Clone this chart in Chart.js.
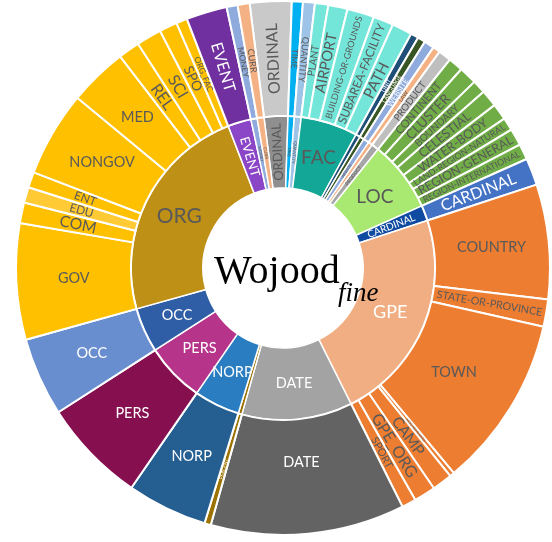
<!DOCTYPE html>
<html>
<head>
<meta charset="utf-8">
<script src="https://cdn.jsdelivr.net/npm/chart.js@4"></script>
<style>
html, body { margin: 0; padding: 0; background: #fff; }
#wrap { width: 552px; height: 542px; }
</style>
</head>
<body>
<div id="wrap"><canvas id="sunburst" width="552" height="542"></canvas></div>
<script>
// top level entity types, clockwise from the top (ORDINAL)
const categories = ['ORDINAL', 'TIME', 'QUANTITY', 'FAC', 'UNIT', 'LANGUAGE', 'WEBSITE', 'LAW', 'PRODUCT', 'LOC',
    'CARDINAL', 'GPE', 'DATE', 'PERCENT', 'NORP', 'PERS', 'OCC', 'ORG', 'EVENT', 'MONEY', 'CURR'];
// share of types without subtypes (null = sum of its subtypes)
const categoryValues = [9.1, 2.4, 2.6, null, 1.7, 1.7, 2.2, 1.6, 2.8, null,
    5.9, null, 42.3, 1.4, 17.5, 22.7, 17.1, null, 8.9, 2.4, 2.6];

// subtypes
const facTypes = ['PLANT', 'AIRPORT', 'BUILDING-OR-GROUNDS', 'SUBAREA-FACILITY', 'PATH'];
const facValues = [2.9, 4.2, 5.9, 4.4, 4.4];
const locTypes = ['CONTINENT', 'CLUSTER', 'BOUNDARY', 'CELESTIAL', 'WATER-BODY', 'LAND-REGION-NATURAL', 'REGION-GENERAL', 'REGION-INTERNATIONAL'];
const locValues = [3.2, 3.9, 2.9, 3.7, 3.6, 2.8, 3.7, 3.4];
const gpeTypes = ['COUNTRY', 'STATE-OR-PROVINCE', 'TOWN', 'NEIGHBORHOOD', 'CAMP', 'GPE_ORG', 'SPORT'];
const gpeValues = [25.0, 5.9, 37.5, 1.0, 4.4, 4.7, 3.1];
const orgTypes = ['GOV', 'COM', 'EDU', 'ENT', 'NONGOV', 'MED', 'REL', 'SCI', 'SPO', 'ORG_FAC'];
const orgValues = [25.3, 4.5, 3.4, 3.4, 18.6, 12.8, 4.7, 5.5, 3.9, 2.4];

const subtypes = { FAC: [facTypes, facValues], LOC: [locTypes, locValues], GPE: [gpeTypes, gpeValues], ORG: [orgTypes, orgValues] };

// colours
const innerColors = {
    ORDINAL: '#8f8f8f', TIME: '#00b0f0', QUANTITY: '#9dc3e6', FAC: '#13a797', UNIT: '#1f4e79', LANGUAGE: '#375623',
    WEBSITE: '#8faadc', LAW: '#f4b183', PRODUCT: '#a6a6a6', LOC: '#a9e871', CARDINAL: '#0f4ba0', GPE: '#f0ae82',
    DATE: '#a3a3a3', PERCENT: '#9c7200', NORP: '#2a7dc1', PERS: '#b6348a', OCC: '#2f5ea6', ORG: '#bf9016',
    EVENT: '#8b45c7', MONEY: '#8faadc', CURR: '#f4b183'
};
const outerColors = {
    ORDINAL: '#c9c9c9', TIME: '#00b0f0', QUANTITY: '#9dc3e6', FAC: '#74e6d9', UNIT: '#1f4e79', LANGUAGE: '#375623',
    WEBSITE: '#8faadc', LAW: '#f4b183', PRODUCT: '#bfbfbf', LOC: '#70ad47', CARDINAL: '#4472c4', GPE: '#ed7d31',
    DATE: '#636363', PERCENT: '#9c7200', NORP: '#255e91', PERS: '#860f4f', OCC: '#698ed0', ORG: '#ffc000',
    EVENT: '#7030a0', MONEY: '#8faadc', CURR: '#f4b183'
};

const sum = a => a.reduce((s, v) => s + v, 0);
const innerValues = categories.map((c, i) => subtypes[c] ? sum(subtypes[c][1]) : categoryValues[i]);

const outerLabels = [], outerValues = [], outerFill = [];
categories.forEach((c, i) => {
    if (subtypes[c]) {
        subtypes[c][0].forEach((t, k) => {
            outerLabels.push(t);
            outerValues.push(subtypes[c][1][k]);
            outerFill.push(t === 'EDU' ? '#ffca33' : outerColors[c]);
        });
    } else {
        outerLabels.push(c);
        outerValues.push(categoryValues[i]);
        outerFill.push(outerColors[c]);
    }
});

const whiteOuter = new Set(['CARDINAL', 'DATE', 'NORP', 'PERS', 'OCC', 'EVENT', 'UNIT', 'LANGUAGE', 'PERCENT', 'WEBSITE']);
const whiteInner = new Set(['CARDINAL', 'GPE', 'DATE', 'NORP', 'PERS', 'OCC', 'EVENT', 'UNIT', 'LANGUAGE', 'PERCENT']);
const flipped = new Set(['ORDINAL', 'TIME', 'QUANTITY']);
const bigInner = { ORG: 21, FAC: 19, LOC: 19, GPE: 18 };
const FONT = 'Lato';

const sliceLabels = {
    id: 'sliceLabels',
    afterDatasetsDraw(chart) {
        const ctx = chart.ctx;
        chart.data.datasets.forEach((ds, di) => {
            const outer = di === 0;
            chart.getDatasetMeta(di).data.forEach((arc, j) => {
                const name = ds.names[j];
                const { x, y, startAngle, endAngle, innerRadius, outerRadius } = arc;
                const span = endAngle - startAngle;
                const spanDeg = span * 180 / Math.PI;
                const mid = (startAngle + endAngle) / 2;
                let r = (innerRadius + outerRadius) / 2;
                ctx.save();
                ctx.fillStyle = (outer ? whiteOuter : whiteInner).has(name) ? '#ffffff' : '#595959';
                ctx.textAlign = 'center';
                ctx.textBaseline = 'middle';
                let size;
                if (spanDeg >= 12) {
                    size = (!outer && bigInner[name]) || 14.5;
                    if (outer) r -= Math.max(0, spanDeg - 30) * 1.2;
                    ctx.translate(x + Math.cos(mid) * r, y + Math.sin(mid) * r);
                } else {
                    ctx.translate(x + Math.cos(mid) * r, y + Math.sin(mid) * r);
                    ctx.font = '100px ' + FONT;
                    const w = ctx.measureText(name).width / 100;
                    const thick = outerRadius - innerRadius;
                    size = Math.min(outer ? 16 : 13, r * span * (outer ? 0.95 : 0.85), thick * 0.93 / w);
                    let rot = mid;
                    if (Math.cos(mid) < 0) rot += Math.PI;
                    if (flipped.has(name)) rot += Math.PI;
                    ctx.rotate(rot);
                }
                if (size >= 3) {
                    ctx.font = size + 'px ' + FONT;
                    ctx.fillText(name, 0, 0);
                }
                ctx.restore();
            });
        });
    }
};

const centerTitle = {
    id: 'centerTitle',
    afterDraw(chart) {
        const ctx = chart.ctx;
        ctx.save();
        ctx.fillStyle = '#000';
        ctx.textAlign = 'left';
        ctx.textBaseline = 'alphabetic';
        ctx.font = '40px "Liberation Serif"';
        ctx.fillText('Wojood', 214, 283);
        ctx.font = 'italic 27px "Liberation Serif"';
        ctx.fillText('fine', 338, 301);
        ctx.restore();
    }
};

new Chart(document.getElementById('sunburst'), {
    type: 'doughnut',
    data: {
        labels: outerLabels,
        datasets: [{
            label: 'subtype',
            data: outerValues,
            names: outerLabels,
            backgroundColor: outerFill,
            borderColor: '#ffffff',
            borderWidth: 2,
            weight: 115
        }, {
            label: 'type',
            data: innerValues,
            names: categories,
            backgroundColor: categories.map(c => innerColors[c]),
            borderColor: '#ffffff',
            borderWidth: 1.5,
            weight: 72
        }]
    },
    options: {
        responsive: false,
        animation: false,
        events: [],
        rotation: -7.2,
        radius: 267,
        cutout: '30%',
        layout: { padding: { left: 14, right: 0, top: 0, bottom: 6 } },
        plugins: {
            legend: { display: false },
            tooltip: { enabled: false }
        }
    },
    plugins: [sliceLabels, centerTitle]
});
</script>
</body>
</html>
